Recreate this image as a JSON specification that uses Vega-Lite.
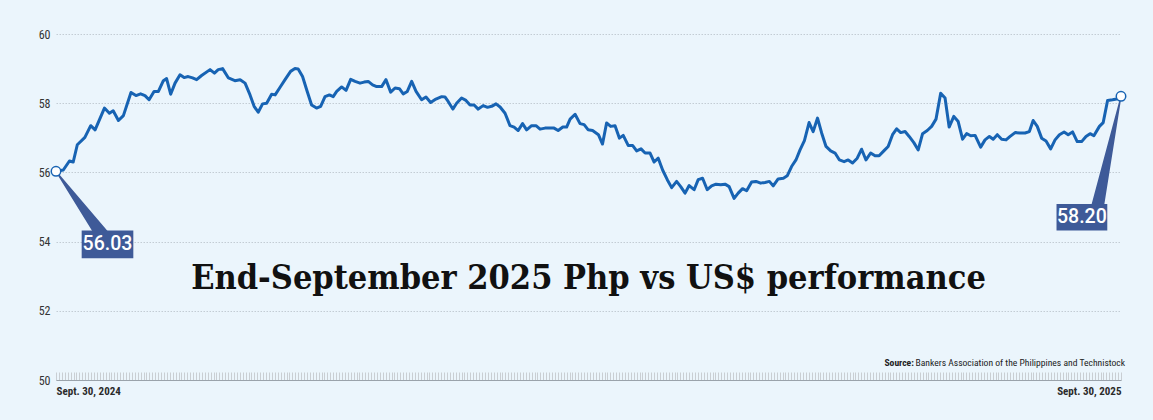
{
  "$schema": "https://vega.github.io/schema/vega-lite/v6.json",
  "width": 1065,
  "height": 346,
  "autosize": {"type": "none"},
  "padding": {"left": 56, "top": 34, "right": 32, "bottom": 40},
  "background": "#EBF5FC",
  "config": {"view": {"stroke": null}},
  "datasets": {
    "php": [
      {"d":0,"v":56.03},{"d":2.5,"v":56.07},{"d":4.6,"v":56.33},{"d":5.9,"v":56.30},{"d":7.3,"v":56.80},{"d":9.9,"v":57.01},{"d":11.9,"v":57.35},{"d":13.4,"v":57.23},{"d":16.6,"v":57.86},{"d":18.3,"v":57.71},{"d":19.6,"v":57.78},{"d":21.4,"v":57.50},{"d":23.1,"v":57.64},{"d":25.7,"v":58.31},{"d":27.4,"v":58.22},{"d":29.0,"v":58.27},{"d":30.5,"v":58.22},{"d":31.9,"v":58.10},{"d":33.6,"v":58.34},{"d":35.1,"v":58.34},{"d":36.8,"v":58.65},{"d":37.9,"v":58.71},{"d":39.3,"v":58.26},{"d":40.8,"v":58.58},{"d":42.5,"v":58.82},{"d":43.9,"v":58.74},{"d":45.3,"v":58.77},{"d":46.8,"v":58.73},{"d":48.2,"v":58.68},{"d":49.9,"v":58.80},{"d":52.8,"v":58.97},{"d":54.3,"v":58.87},{"d":55.6,"v":58.97},{"d":57.1,"v":59.00},{"d":59.1,"v":58.73},{"d":61.3,"v":58.65},{"d":63.1,"v":58.68},
      {"d":64.8,"v":58.58},{"d":66.5,"v":58.24},{"d":67.9,"v":57.91},{"d":69.3,"v":57.74},{"d":70.8,"v":57.98},{"d":72.2,"v":58.00},{"d":73.9,"v":58.26},{"d":75.1,"v":58.24},{"d":76.8,"v":58.46},{"d":78.5,"v":58.68},{"d":80.4,"v":58.92},{"d":81.9,"v":59.00},{"d":83.0,"v":58.99},{"d":84.5,"v":58.77},{"d":86.1,"v":58.34},{"d":87.6,"v":57.95},{"d":89.3,"v":57.86},{"d":90.7,"v":57.91},{"d":92.2,"v":58.19},{"d":93.7,"v":58.24},{"d":95.0,"v":58.19},{"d":96.2,"v":58.34},{"d":97.9,"v":58.47},{"d":99.4,"v":58.37},{"d":101.0,"v":58.69},{"d":102.5,"v":58.63},{"d":104.2,"v":58.58},{"d":105.6,"v":58.61},{"d":107.0,"v":58.63},{"d":108.5,"v":58.53},{"d":109.9,"v":58.48},{"d":111.6,"v":58.48},{"d":113.1,"v":58.68},{"d":114.7,"v":58.32},{"d":116.2,"v":58.44},{"d":117.7,"v":58.42},{"d":119.0,"v":58.27},{"d":120.4,"v":58.34},{"d":121.9,"v":58.63},{"d":123.4,"v":58.34},
      {"d":125.3,"v":58.10},{"d":126.8,"v":58.18},{"d":128.4,"v":58.02},{"d":130.2,"v":58.12},{"d":132.2,"v":58.19},{"d":133.3,"v":58.18},{"d":134.4,"v":58.05},{"d":136.0,"v":57.83},{"d":137.3,"v":58.00},{"d":139.0,"v":58.15},{"d":140.5,"v":58.08},{"d":141.9,"v":57.95},{"d":143.3,"v":57.95},{"d":144.7,"v":57.83},{"d":146.4,"v":57.93},{"d":147.9,"v":57.88},{"d":149.3,"v":57.91},{"d":150.8,"v":57.98},{"d":152.2,"v":57.89},{"d":153.9,"v":57.71},{"d":155.6,"v":57.35},{"d":157.0,"v":57.31},{"d":158.4,"v":57.21},{"d":159.9,"v":57.41},{"d":161.3,"v":57.23},{"d":163.0,"v":57.35},{"d":164.5,"v":57.35},{"d":165.9,"v":57.25},{"d":167.6,"v":57.28},{"d":169.3,"v":57.28},{"d":170.7,"v":57.28},{"d":172.1,"v":57.21},{"d":173.7,"v":57.31},{"d":175.0,"v":57.31},{"d":176.2,"v":57.54},{"d":177.9,"v":57.68},{"d":179.6,"v":57.41},{"d":181.0,"v":57.38},{"d":182.4,"v":57.23},{"d":183.9,"v":57.21},
      {"d":185.9,"v":57.09},{"d":187.3,"v":56.82},{"d":188.7,"v":57.43},{"d":190.1,"v":57.33},{"d":191.6,"v":57.35},{"d":193.1,"v":56.99},{"d":194.4,"v":57.07},{"d":196.1,"v":56.78},{"d":197.6,"v":56.78},{"d":199.0,"v":56.62},{"d":200.5,"v":56.68},{"d":201.9,"v":56.56},{"d":203.6,"v":56.56},{"d":205.0,"v":56.30},{"d":206.4,"v":56.41},{"d":207.9,"v":56.07},{"d":209.5,"v":55.79},{"d":211.0,"v":55.56},{"d":212.7,"v":55.74},{"d":214.1,"v":55.59},{"d":215.6,"v":55.40},{"d":217.0,"v":55.62},{"d":218.7,"v":55.50},{"d":220.1,"v":55.79},{"d":221.6,"v":55.83},{"d":223.2,"v":55.50},{"d":224.7,"v":55.61},{"d":226.2,"v":55.66},{"d":227.8,"v":55.64},{"d":229.3,"v":55.66},{"d":230.7,"v":55.59},{"d":232.4,"v":55.25},{"d":233.8,"v":55.40},{"d":235.3,"v":55.53},{"d":236.7,"v":55.47},{"d":238.4,"v":55.72},{"d":239.9,"v":55.74},{"d":241.5,"v":55.69},{"d":243.0,"v":55.71},{"d":244.5,"v":55.74},{"d":245.8,"v":55.61},{"d":247.5,"v":55.81},
      {"d":249.3,"v":55.83},{"d":250.6,"v":55.90},{"d":252.1,"v":56.17},{"d":253.6,"v":56.36},{"d":255.0,"v":56.65},{"d":256.5,"v":56.92},{"d":258.1,"v":57.44},{"d":259.5,"v":57.18},{"d":261.0,"v":57.57},{"d":262.4,"v":57.14},{"d":263.9,"v":56.75},{"d":265.5,"v":56.62},{"d":267.0,"v":56.56},{"d":268.5,"v":56.36},{"d":270.1,"v":56.31},{"d":271.5,"v":56.36},{"d":273.0,"v":56.27},{"d":274.6,"v":56.41},{"d":276.1,"v":56.67},{"d":277.6,"v":56.36},{"d":279.2,"v":56.56},{"d":280.7,"v":56.48},{"d":282.1,"v":56.48},{"d":283.8,"v":56.63},{"d":285.2,"v":56.75},{"d":286.7,"v":57.09},{"d":288.1,"v":57.26},{"d":289.5,"v":57.15},{"d":291.0,"v":57.18},{"d":292.4,"v":57.04},{"d":294.0,"v":56.86},{"d":295.5,"v":56.65},{"d":297.0,"v":57.12},{"d":298.6,"v":57.21},{"d":300.1,"v":57.33},{"d":301.6,"v":57.54},{"d":303.2,"v":58.29},{"d":304.7,"v":58.15},{"d":306.1,"v":57.31},{"d":307.7,"v":57.62},{"d":309.2,"v":57.47},
      {"d":310.7,"v":56.96},{"d":312.1,"v":57.12},{"d":313.5,"v":57.06},{"d":315.0,"v":57.07},{"d":316.9,"v":56.73},{"d":318.4,"v":56.94},{"d":319.9,"v":57.04},{"d":321.2,"v":56.96},{"d":322.6,"v":57.09},{"d":324.1,"v":56.96},{"d":325.6,"v":56.94},{"d":327.0,"v":57.04},{"d":328.7,"v":57.15},{"d":330.4,"v":57.14},{"d":332.1,"v":57.14},{"d":333.6,"v":57.18},{"d":334.9,"v":57.50},{"d":336.3,"v":57.33},{"d":337.8,"v":56.99},{"d":339.3,"v":56.91},{"d":340.9,"v":56.68},{"d":342.4,"v":56.94},{"d":343.9,"v":57.09},{"d":345.5,"v":57.17},{"d":346.9,"v":57.09},{"d":348.4,"v":57.17},{"d":350.0,"v":56.89},{"d":351.5,"v":56.89},{"d":353.0,"v":57.04},{"d":354.4,"v":57.12},{"d":355.7,"v":57.06},{"d":357.6,"v":57.33},{"d":358.9,"v":57.44},{"d":360.4,"v":58.08},{"d":362.1,"v":58.10},{"d":363.5,"v":58.12},{"d":365,"v":58.20}
    ],
    "ends": [
      {"d":0,"v":56.03,"label":"56.03"},
      {"d":365,"v":58.20,"label":"58.20"}
    ],
    "wedges": [
      {"g":"start","d":0,"v":56.03,"p":0},
      {"g":"start","d":15.8,"v":54.2,"p":1},
      {"g":"end","d":365,"v":58.20,"p":0},
      {"g":"end","d":356.8,"v":54.95,"p":1}
    ],
    "boxes": [
      {"label":"56.03","x1":8.8,"x2":26.5,"y1":53.52,"y2":54.32,"cx":17.65,"cy":53.92},
      {"label":"58.20","x1":342.9,"x2":360.3,"y1":54.32,"y2":55.09,"cx":351.6,"cy":54.71}
    ]
  },
  "layer": [
    {
      "data": {"name": "php"},
      "mark": {"type": "line", "color": "#1763B3", "strokeWidth": 3, "strokeJoin": "round"},
      "encoding": {
        "x": {
          "field": "d", "type": "quantitative",
          "scale": {"domain": [0, 365], "nice": false, "zero": false},
          "axis": {
            "title": null, "grid": false,
            "tickCount": 365,
            "tickSize": -8, "tickColor": "#C9CED3", "tickWidth": 1,
            "domainColor": "#9AA3AB", "domainWidth": 1,
            "labelExpr": "datum.value == 0 ? 'Sept. 30, 2024' : (datum.value == 365 ? 'Sept. 30, 2025' : '')",
            "labelFlush": true, "labelFlushOffset": 0, "labelOverlap": false,
            "labelPadding": 13,
            "labelFont": "Liberation Sans Narrow, Roboto Condensed, Roboto",
            "labelFontSize": 11, "labelFontWeight": "bold", "labelColor": "#2a2a2a"
          }
        },
        "y": {
          "field": "v", "type": "quantitative",
          "scale": {"domain": [50, 60], "nice": false, "zero": false},
          "axis": {
            "title": null, "values": [50, 52, 54, 56, 58, 60],
            "grid": true, "gridColor": "#C3CCD4", "gridDash": [1.5, 1.5], "gridWidth": 1,
            "domain": false, "ticks": false, "labelPadding": 6,
            "labelFont": "Liberation Sans Narrow, Roboto Condensed, Roboto",
            "labelFontSize": 12, "labelColor": "#333333"
          }
        }
      }
    },
    {
      "data": {"name": "wedges"},
      "mark": {"type": "trail", "color": "#3E5A98"},
      "encoding": {
        "x": {"field": "d", "type": "quantitative"},
        "y": {"field": "v", "type": "quantitative"},
        "detail": {"field": "g"},
        "size": {"field": "p", "type": "quantitative", "scale": {"domain": [0, 1], "range": [0, 13]}, "legend": null}
      }
    },
    {
      "data": {"name": "boxes"},
      "mark": {"type": "rect", "color": "#3E5A98"},
      "encoding": {
        "x": {"field": "x1", "type": "quantitative"},
        "x2": {"field": "x2"},
        "y": {"field": "y1", "type": "quantitative"},
        "y2": {"field": "y2"}
      }
    },
    {
      "data": {"name": "boxes"},
      "mark": {"type": "text", "color": "#FFFFFF", "font": "Roboto", "fontSize": 19.5, "fontWeight": 500, "align": "center", "baseline": "middle"},
      "encoding": {
        "x": {"field": "cx", "type": "quantitative"},
        "y": {"field": "cy", "type": "quantitative"},
        "text": {"field": "label"}
      }
    },
    {
      "data": {"name": "ends"},
      "mark": {"type": "point", "filled": true, "fill": "#FFFFFF", "stroke": "#1763B3", "strokeWidth": 1.5, "size": 90, "opacity": 1},
      "encoding": {
        "x": {"field": "d", "type": "quantitative"},
        "y": {"field": "v", "type": "quantitative"}
      }
    },
    {
      "data": {"values": [{"t": "End-September 2025 Php vs US$ performance"}]},
      "mark": {"type": "text", "font": "DejaVu Serif Condensed, Liberation Serif", "fontWeight": "bold", "fontSize": 34, "color": "#111111", "align": "center", "baseline": "alphabetic"},
      "encoding": {
        "x": {"datum": 182.5, "type": "quantitative"},
        "y": {"datum": 52.63, "type": "quantitative"},
        "text": {"field": "t"}
      }
    },
    {
      "data": {"values": [{"t": "Source:"}]},
      "mark": {"type": "text", "font": "Liberation Sans Narrow, Roboto Condensed, Roboto", "fontWeight": "bold", "fontSize": 9.6, "color": "#222222", "align": "right", "baseline": "alphabetic"},
      "encoding": {
        "x": {"datum": 294.0, "type": "quantitative"},
        "y": {"datum": 50.41, "type": "quantitative"},
        "text": {"field": "t"}
      }
    },
    {
      "data": {"values": [{"t": "Bankers Association of the Philippines and Technistock"}]},
      "mark": {"type": "text", "font": "Liberation Sans Narrow, Roboto Condensed, Roboto", "fontSize": 9.6, "color": "#222222", "align": "right", "baseline": "alphabetic"},
      "encoding": {
        "x": {"datum": 366.4, "type": "quantitative"},
        "y": {"datum": 50.41, "type": "quantitative"},
        "text": {"field": "t"}
      }
    }
  ]
}
